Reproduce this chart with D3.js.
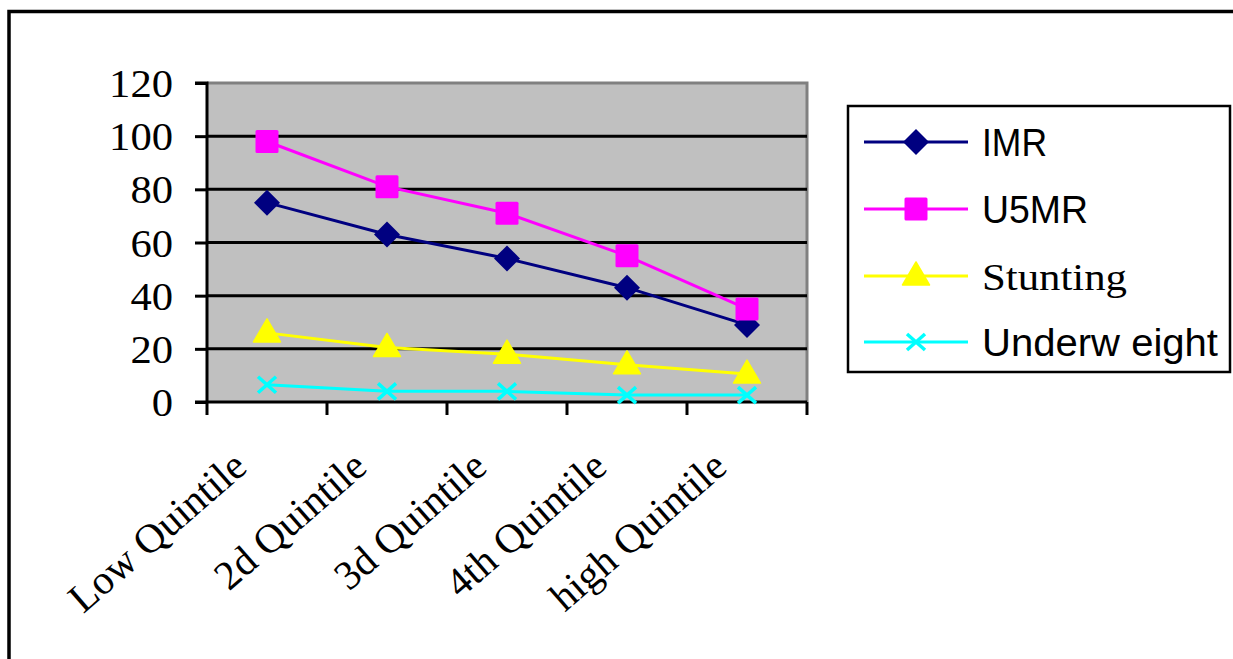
<!DOCTYPE html>
<html><head><meta charset="utf-8">
<script src="https://cdn.jsdelivr.net/npm/d3@7"></script>
<style>body{margin:0;background:#fff;}svg{display:block;}</style>
</head><body>
<svg id="c" width="1233" height="659"></svg>
<script>
const categories = ["Low Quintile","2d Quintile","3d Quintile","4th Quintile","high Quintile"];
const imr = [75, 63, 54, 43, 29];
const u5mr = [98, 81, 71, 55, 35];
const stunting = [26, 20.5, 18, 14, 10.5];
const underweight = [6.5, 4, 4, 2.6, 2.6];
const yTicks = [0, 20, 40, 60, 80, 100, 120];
const seriesNames = ["IMR", "U5MR", "Stunting", "Underw eight"];

const series = [
  {name: seriesNames[0], values: imr, color: "#000080", marker: "diamond"},
  {name: seriesNames[1], values: u5mr, color: "#FF00FF", marker: "square"},
  {name: seriesNames[2], values: stunting, color: "#FFFF00", marker: "triangle"},
  {name: seriesNames[3], values: underweight, color: "#00FFFF", marker: "x"}
];

const svg = d3.select("#c");
const L = 207, R = 807, T = 83, B = 402;

// outer frame
svg.append("rect").attr("x", 9).attr("y", 11.5).attr("width", 1300).attr("height", 700)
  .attr("fill", "none").attr("stroke", "#000").attr("stroke-width", 3.5);

const x = d3.scaleBand().domain(categories).range([L, R]).padding(0);
const y = d3.scaleLinear().domain([0, 120]).range([B, T]);
const cx = c => x(c) + x.bandwidth() / 2;

// plot area
svg.append("rect").attr("x", L).attr("y", T).attr("width", R - L).attr("height", B - T)
  .attr("fill", "#C0C0C0");
svg.append("path").attr("d", `M${L},${T}H${R}V${B}`).attr("fill", "none")
  .attr("stroke", "#808080").attr("stroke-width", 3);

// gridlines
svg.append("g").selectAll("line").data(yTicks.filter(v => v > 0 && v < 120)).join("line")
  .attr("x1", L).attr("x2", R).attr("y1", d => y(d)).attr("y2", d => y(d))
  .attr("stroke", "#000").attr("stroke-width", 3);

// y axis
const yAxis = svg.append("g").attr("transform", `translate(${L},0)`)
  .call(d3.axisLeft(y).tickValues(yTicks).tickSize(12).tickPadding(22).tickFormat(d3.format("d")));
yAxis.select(".domain").attr("stroke", "#000").attr("stroke-width", 3).attr("d", `M-12,${T}H0V${B}`);
yAxis.selectAll(".tick line").attr("stroke", "#000").attr("stroke-width", 3);
yAxis.selectAll(".tick text").attr("font-family", "'Liberation Serif','Times New Roman',serif")
  .attr("font-size", 40).attr("fill", "#000").attr("dy", "0.34em")
  .attr("textLength", d => String(d).length * 21.3).attr("lengthAdjust", "spacingAndGlyphs");

// x axis
const xAxis = svg.append("g").attr("transform", `translate(0,${B})`)
  .call(d3.axisBottom(x).tickSize(0).tickFormat(""));
xAxis.select(".domain").attr("stroke", "#000").attr("stroke-width", 3).attr("d", `M${L - 12},0H${R}`);
svg.append("g").selectAll("line").data(d3.range(categories.length + 1)).join("line")
  .attr("x1", i => L + i * x.step()).attr("x2", i => L + i * x.step())
  .attr("y1", B).attr("y2", B + 13).attr("stroke", "#000").attr("stroke-width", 3);

svg.append("g").selectAll("text").data(categories).join("text")
  .attr("transform", d => `translate(${cx(d) - 18},${B + 68}) rotate(-41)`)
  .attr("text-anchor", "end")
  .attr("font-family", "'Liberation Serif','Times New Roman',serif")
  .attr("font-size", 41).attr("fill", "#000").text(d => d);

// markers
function drawMarker(g, type, color) {
  if (type === "diamond") {
    g.append("path").attr("d", "M0,-13L13,0L0,13L-13,0Z").attr("fill", color);
  } else if (type === "square") {
    g.append("rect").attr("x", -11.5).attr("y", -11.5).attr("width", 23).attr("height", 23)
      .attr("rx", 1.5).attr("fill", color);
  } else if (type === "triangle") {
    g.append("path").attr("d", "M0,-14L13.5,9L-13.5,9Z").attr("fill", color)
      .attr("stroke", color).attr("stroke-width", 1.5).attr("stroke-linejoin", "round");
  } else {
    g.append("path").attr("d", "M-9,-8L9,8M-9,8L9,-8").attr("stroke", color)
      .attr("stroke-width", 3.5).attr("fill", "none");
  }
}

const line = d3.line().x((d, i) => cx(categories[i])).y(d => y(d));
series.forEach(s => {
  svg.append("path").datum(s.values).attr("d", line).attr("fill", "none")
    .attr("stroke", s.color).attr("stroke-width", 3);
});
series.forEach(s => {
  s.values.forEach((v, i) => {
    const g = svg.append("g").attr("transform", `translate(${cx(categories[i])},${y(v)})`);
    drawMarker(g, s.marker, s.color);
  });
});

// legend
const leg = svg.append("g");
leg.append("rect").attr("x", 848).attr("y", 106).attr("width", 382).attr("height", 266)
  .attr("fill", "#fff").attr("stroke", "#000").attr("stroke-width", 2.5);
const rowY = [142, 209, 276, 342];
const textLens = [65, 106, 145, 236];
series.forEach((s, i) => {
  const yy = rowY[i];
  leg.append("line").attr("x1", 864).attr("x2", 968).attr("y1", yy).attr("y2", yy)
    .attr("stroke", s.color).attr("stroke-width", 3);
  const g = leg.append("g").attr("transform", `translate(916,${yy})`);
  drawMarker(g, s.marker, s.color);
  const serif = s.marker === "triangle";
  leg.append("text").attr("x", 982).attr("y", yy + 14)
    .attr("font-family", serif ? "'Liberation Serif','Times New Roman',serif" : "'Liberation Sans',Arial,sans-serif")
    .attr("font-size", serif ? 38 : 38).attr("fill", "#000")
    .attr("textLength", textLens[i]).attr("lengthAdjust", "spacingAndGlyphs")
    .text(s.name);
});
</script>
</body></html>
